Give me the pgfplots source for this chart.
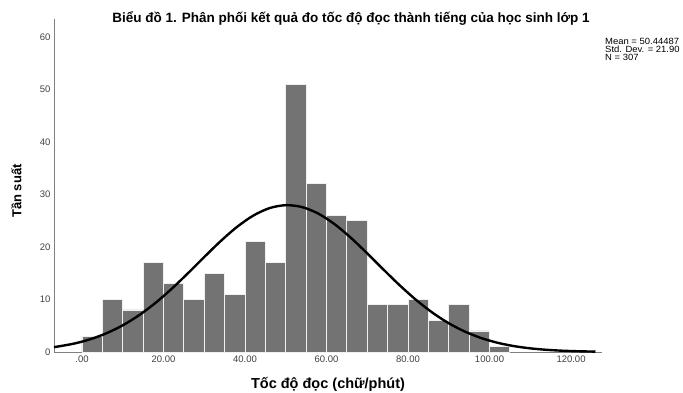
\documentclass[border=0pt]{standalone}
\usepackage{pgfplots}
\pgfplotsset{compat=1.18}
\usepackage{fontspec}
\setmainfont{Liberation Sans}
\definecolor{barg}{HTML}{737373}
\definecolor{axg}{HTML}{808080}
\definecolor{tickg}{HTML}{404040}
\begin{document}
\begin{tikzpicture}
\begin{axis}[
  at={(54pt,41pt)}, anchor=south west,
  scale only axis, width=548pt, height=333pt,
  xmin=-6.87, xmax=127.6, ymin=0, ymax=63.4,
  axis x line*=bottom, axis y line*=left,
  axis line style={axg, line width=0.8pt},
  xtick={0,20,40,60,80,100,120},
  xticklabels={.00,20.00,40.00,60.00,80.00,100.00,120.00},
  ytick={0,10,20,30,40,50,60},
  major tick length=0pt,
  tick label style={font=\fontsize{9.5}{10}\selectfont, text=tickg},
  /pgf/number format/assume math mode=true,
  clip=false,
]
\addplot[ybar interval, fill=barg, draw=white!88!gray, line width=0.9pt] coordinates {
(0,3) (5,10) (10,8) (15,17) (20,13) (25,10) (30,15) (35,11) (40,21) (45,17)
(50,51) (55,32) (60,26) (65,25) (70,9) (75,9) (80,10) (85,6) (90,9) (95,4)
(100,1) (105,1)
};
\addplot[black, line width=2.4pt, smooth, no markers] coordinates {
(-6.87,0.92) (-2,1.590) (2,2.420) (6,3.566) (10,5.081) (14,7.001) (18,9.331)
(22,12.029) (26,14.997) (30,18.084) (34,21.091) (38,23.791) (42,25.957)
(46,27.390) (50,27.954) (54,27.594) (58,26.345) (62,24.327) (66,21.726)
(70,18.768) (74,15.680) (78,12.670) (82,9.902) (86,7.485) (90,5.472)
(94,3.870) (98,2.647) (102,1.751) (106,1.120) (110,0.693) (114,0.415)
(118,0.240) (122,0.134) (126,0.073)
};
\end{axis}
\node[font=\bfseries\fontsize{13.5}{15}\selectfont, anchor=center] at (351pt,375pt)
  {Biểu đồ 1. Phân phối kết quả đo tốc độ đọc thành tiếng của học sinh lớp 1};
\node[font=\bfseries\fontsize{13}{16}\selectfont, rotate=90, anchor=center] at (16.5pt,202pt) {Tần suất};
\node[font=\bfseries\fontsize{14.5}{16}\selectfont, anchor=center] at (328pt,9pt) {Tốc độ đọc (chữ/phút)};
\node[font=\fontsize{9}{8}\selectfont, anchor=north west, align=left, inner sep=0pt, xscale=1.05] at (605pt,355pt)
  {Mean = 50.44487\\Std. Dev. = 21.90\\N = 307};
\pgfresetboundingbox
\path[use as bounding box] (0pt,0pt) rectangle (683pt,393pt);
\end{tikzpicture}
\end{document}
